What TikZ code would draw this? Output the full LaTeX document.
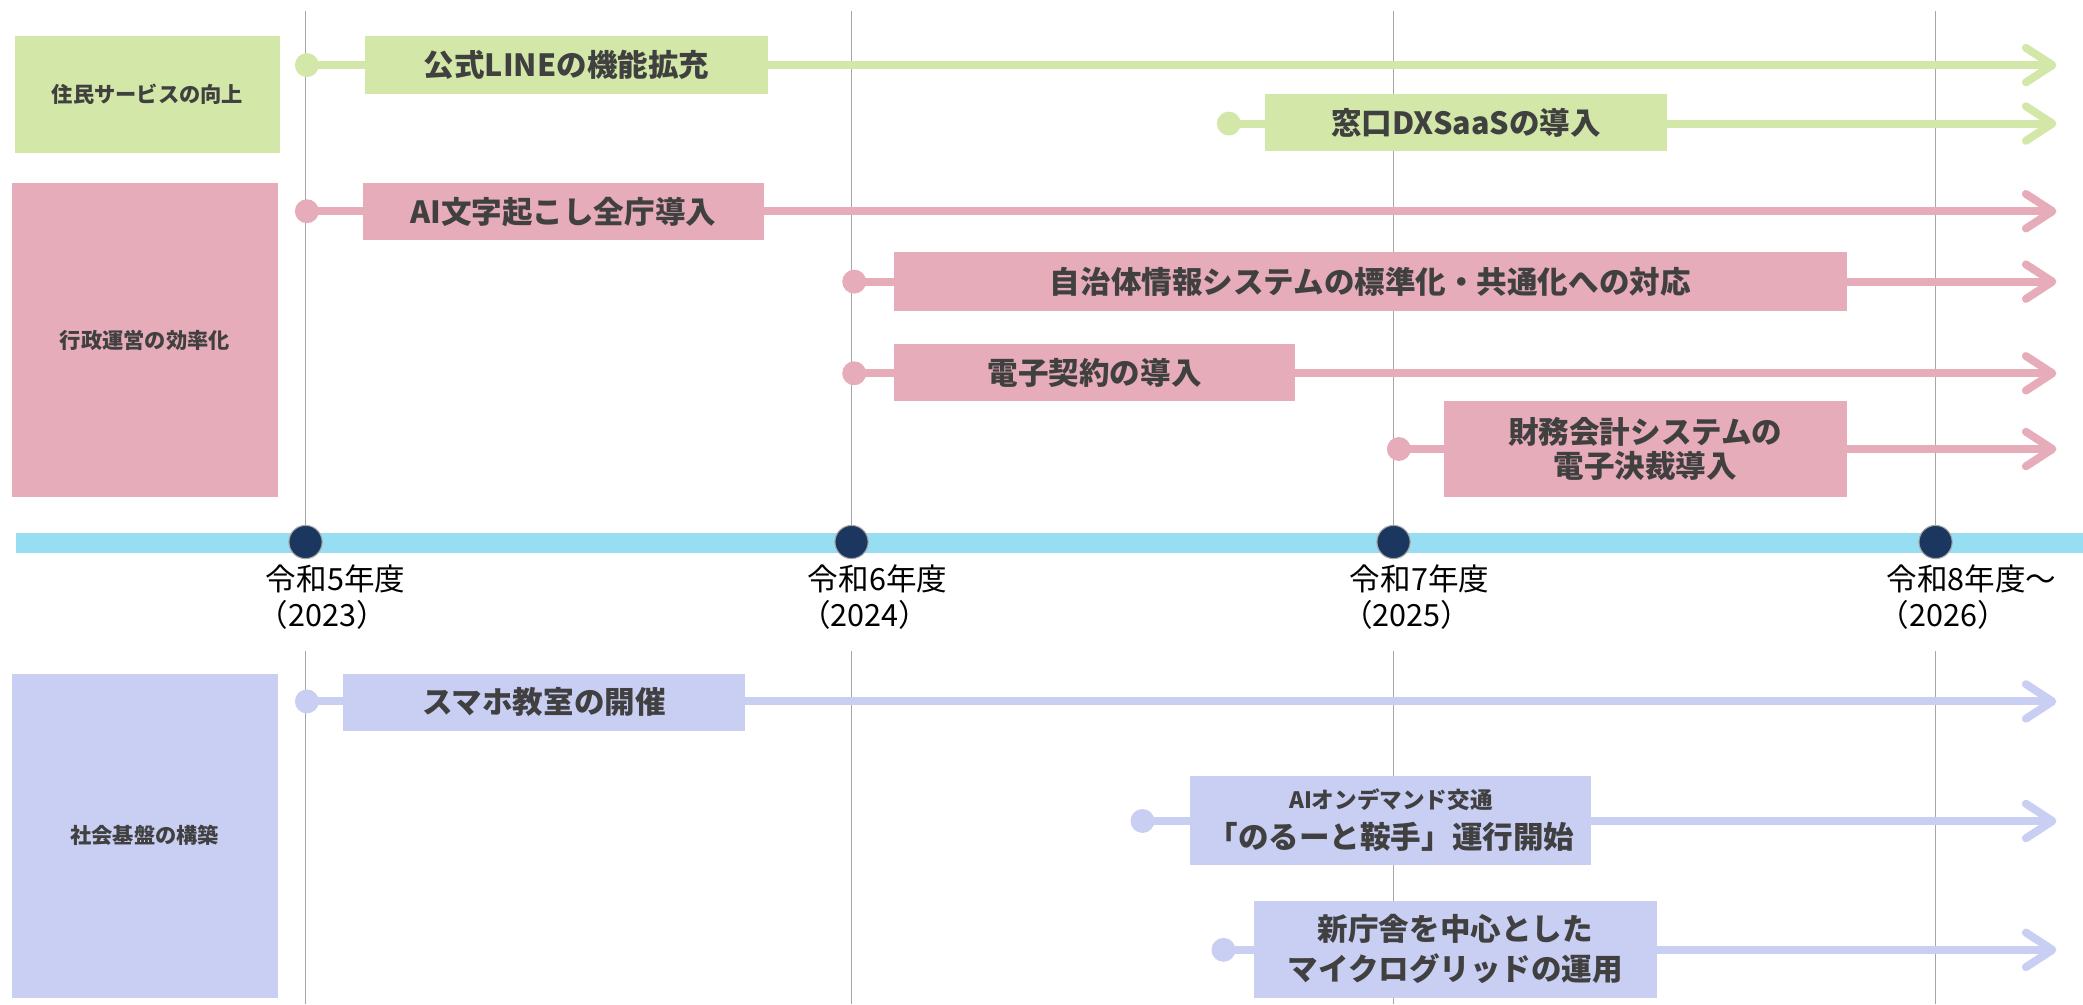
\documentclass[tikz,border=0pt]{standalone}
\usepackage{fontspec}
\setmainfont{Noto Sans CJK JP}
\usetikzlibrary{arrows.meta}
\definecolor{cgreen}{HTML}{D3E8A8}
\definecolor{cpink}{HTML}{E7ACBA}
\definecolor{cblue}{HTML}{C9CEF3}
\definecolor{cbar}{HTML}{98DEF2}
\definecolor{cnavy}{HTML}{1B365F}
\definecolor{ctext}{HTML}{404040}
\definecolor{cgrid}{HTML}{A6A6A6}
\begin{document}
\begin{tikzpicture}[x=1pt,y=-1pt,
  catbox/.style={fill=#1, draw=none, inner sep=0pt, text=ctext,
    font=\bfseries\fontsize{16}{20}\selectfont},
  itembox/.style={fill=#1, draw=none, inner sep=0pt, text=ctext, align=center,
    font=\bfseries\fontsize{23}{28}\selectfont},
  startdot/.style={circle, fill=#1, draw=none, minimum size=18pt, inner sep=0pt},
  conn/.style={draw=#1, line width=6pt, line cap=round,
    -{Straight Barb[length=20pt,width=26pt,round]}},
  yeardot/.style={circle, fill=cnavy, draw=cgrid, line width=0.8pt, minimum size=25pt, inner sep=0pt},
  yearlabel/.style={anchor=north west, align=left, inner sep=0pt, text=black,
    font=\fontsize{23}{27}\selectfont},
  gridline/.style={draw=cgrid, line width=1.1pt}
]
\useasboundingbox (0,0) rectangle (1568,756);

% grid line anchors
\foreach \n/\x in {1/230,2/641,3/1049,4/1457}{
  \coordinate (gt\n) at (\x,8);
  \coordinate (gm\n) at (\x,490);
  \coordinate (gb\n) at (\x,756);
}
% timeline bar
\coordinate (barL) at (12,408.5);
\coordinate (barR) at (1568,408.5);
\draw[cbar, line width=15pt] (barL) -- (barR);

% year dots
\node[yeardot] (y1) at (230,408) {};
\node[yeardot] (y2) at (641,408) {};
\node[yeardot] (y3) at (1049,408) {};
\node[yeardot] (y4) at (1457,408) {};

\foreach \n in {1,2,3,4}{
  \draw[gridline] (gt\n) -- (y\n.north);
  \draw[gridline] (gm\n) -- (gb\n);
}

% year labels
\node[yearlabel] (l1) at (200,425) {令和5年度\\\hspace*{-6pt}（2023）};
\node[yearlabel] (l2) at (608,425) {令和6年度\\\hspace*{-6pt}（2024）};
\node[yearlabel] (l3) at (1016,425) {令和7年度\\\hspace*{-6pt}（2025）};
\node[yearlabel] (l4) at (1420,425) {令和8年度～\\\hspace*{-6pt}（2026）};

% category boxes
\node[catbox=cgreen, minimum width=200pt, minimum height=88pt] (c1) at (111,71) {住民サービスの向上};
\node[catbox=cpink, minimum width=200pt, minimum height=236pt] (c2) at (109,256) {行政運営の効率化};
\node[catbox=cblue, minimum width=200pt, minimum height=244pt] (c3) at (109,629) {社会基盤の構築};

% start dots
\node[startdot=cgreen] (d1) at (231,49) {};
\node[startdot=cgreen] (d2) at (925,93) {};
\node[startdot=cpink] (d3) at (231,159) {};
\node[startdot=cpink] (d4) at (643,212) {};
\node[startdot=cpink] (d5) at (643,281) {};
\node[startdot=cpink] (d6) at (1053,338) {};
\node[startdot=cblue] (d7) at (231,528) {};
\node[startdot=cblue] (d8) at (860,618) {};
\node[startdot=cblue] (d9) at (921,715) {};

% end coordinates
\coordinate (e1) at (1548,49);
\coordinate (e2) at (1548,93);
\coordinate (e3) at (1548,159);
\coordinate (e4) at (1548,212);
\coordinate (e5) at (1548,281);
\coordinate (e6) at (1548,338);
\coordinate (e7) at (1548,528);
\coordinate (e8) at (1548,618);
\coordinate (e9) at (1548,715);

% connectors
\draw[conn=cgreen] (d1.center) -- (e1);
\draw[conn=cgreen] (d2.center) -- (e2);
\draw[conn=cpink] (d3.center) -- (e3);
\draw[conn=cpink] (d4.center) -- (e4);
\draw[conn=cpink] (d5.center) -- (e5);
\draw[conn=cpink] (d6.center) -- (e6);
\draw[conn=cblue] (d7.center) -- (e7);
\draw[conn=cblue] (d8.center) -- (e8);
\draw[conn=cblue] (d9.center) -- (e9);

% item boxes
\node[itembox=cgreen, minimum width=303pt, minimum height=44pt] (i1) at (426.5,49) {公式LINEの機能拡充};
\node[itembox=cgreen, minimum width=303pt, minimum height=43pt] (i2) at (1103.5,92.5) {窓口DXSaaSの導入};
\node[itembox=cpink, minimum width=302pt, minimum height=43pt] (i3) at (424,159.5) {AI文字起こし全庁導入};
\node[itembox=cpink, minimum width=717pt, minimum height=44pt] (i4) at (1031.5,212) {自治体情報システムの標準化・共通化への対応};
\node[itembox=cpink, minimum width=302pt, minimum height=43pt] (i5) at (824,280.5) {電子契約の導入};
\node[itembox=cpink, minimum width=303pt, minimum height=72pt, font=\bfseries\fontsize{23}{26}\selectfont] (i6) at (1238.5,338) {財務会計システムの\\電子決裁導入};
\node[itembox=cblue, minimum width=303pt, minimum height=43pt] (i7) at (409.5,528.5) {スマホ教室の開催};
\node[itembox=cblue, minimum width=302pt, minimum height=67pt, font=\bfseries\fontsize{23}{30}\selectfont] (i8) at (1047,617.5) {{\fontsize{17}{20}\selectfont AIオンデマンド交通}\\「のるーと鞍手」運行開始};
\node[itembox=cblue, minimum width=303pt, minimum height=73pt, font=\bfseries\fontsize{23}{30}\selectfont] (i9) at (1095.5,714.5) {新庁舎を中心とした\\マイクログリッドの運用};
\end{tikzpicture}
\end{document}
